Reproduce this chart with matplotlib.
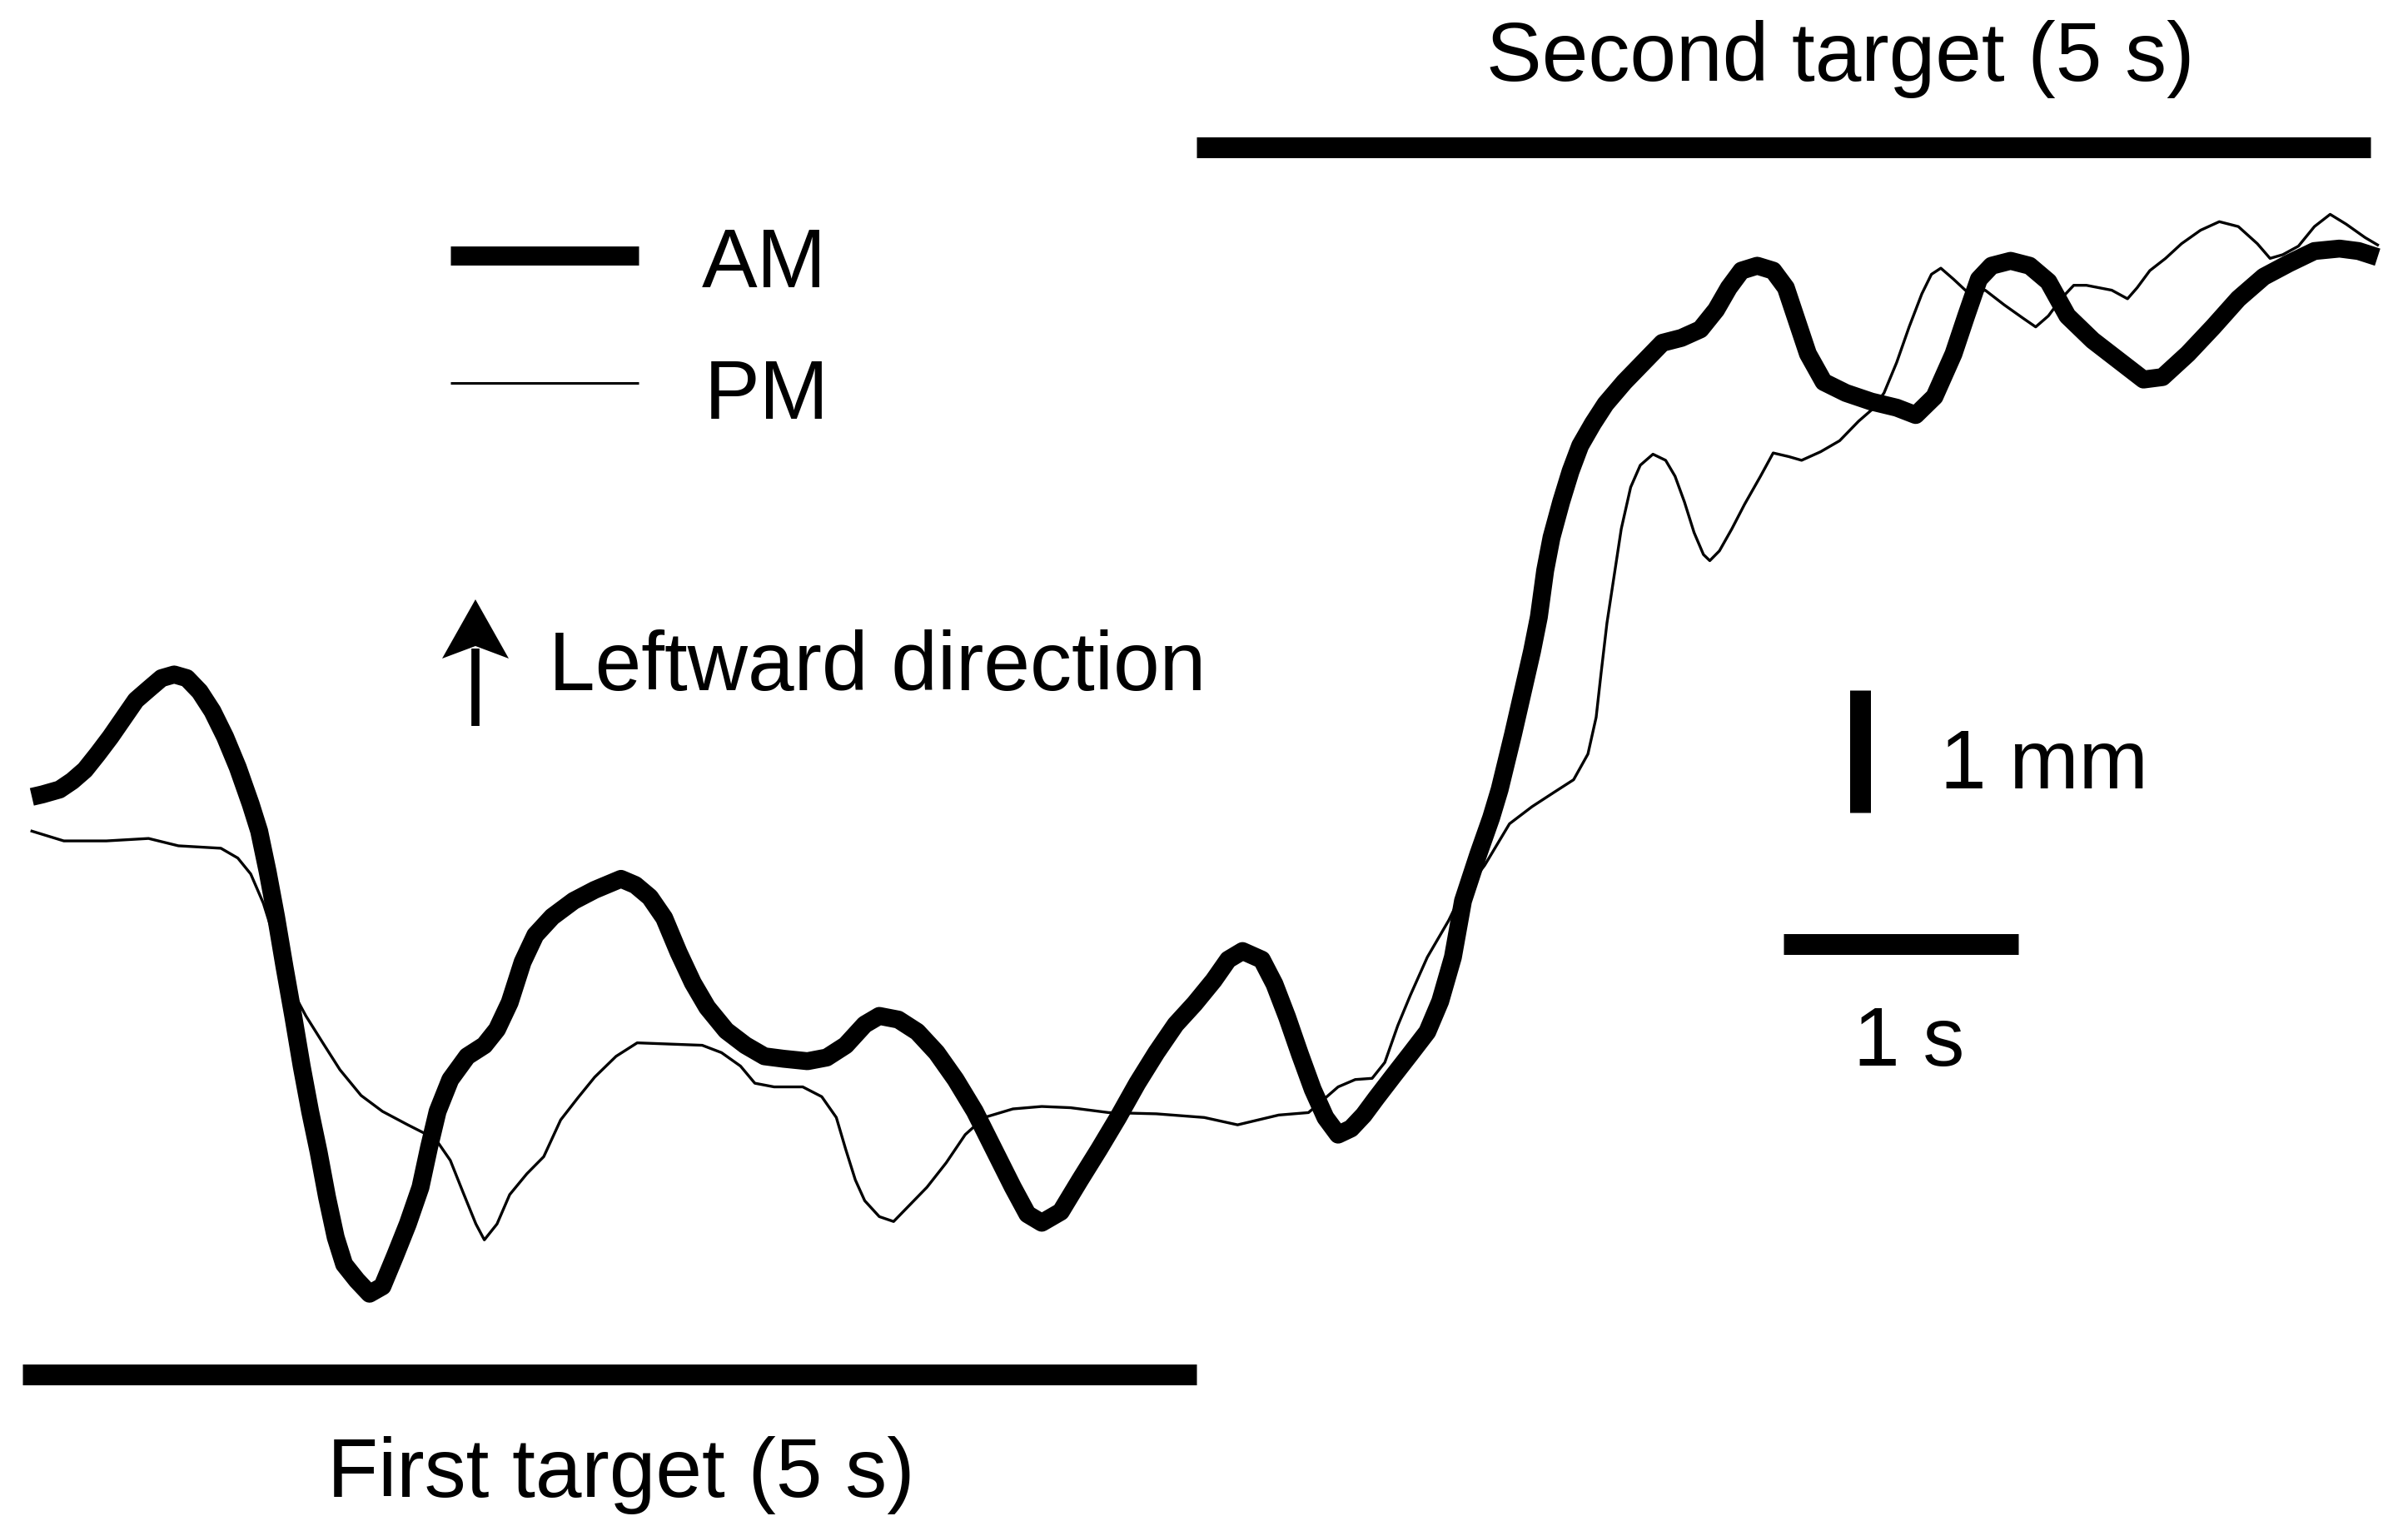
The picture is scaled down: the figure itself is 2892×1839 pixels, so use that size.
import numpy as np
import matplotlib
matplotlib.use("Agg")
import matplotlib.pyplot as plt
from matplotlib.patches import Polygon

# traces: time in s, position in mm (up = leftward)
am_t = [0.040, 0.085, 0.158, 0.212, 0.266, 0.320, 0.375, 0.429, 0.483, 0.537, 0.592, 0.646,
        0.700, 0.755, 0.809, 0.863, 0.917, 0.972, 1.008, 1.044, 1.080, 1.116, 1.153, 1.189,
        1.225, 1.261, 1.297, 1.334, 1.370, 1.424, 1.478, 1.533, 1.587, 1.641, 1.695, 1.732,
        1.768, 1.822, 1.894, 1.967, 2.021, 2.075, 2.130, 2.184, 2.256, 2.347, 2.437,
        2.549, 2.610, 2.672, 2.733, 2.794, 2.855, 2.916, 2.997, 3.079, 3.160, 3.241, 3.343,
        3.425, 3.506, 3.587, 3.649, 3.730, 3.811, 3.893, 3.974, 4.056, 4.137, 4.218, 4.280,
        4.341, 4.422, 4.504, 4.585, 4.666, 4.748, 4.829, 4.911, 4.992, 5.073, 5.135, 5.196,
        5.278, 5.332, 5.386, 5.440, 5.495, 5.549, 5.603, 5.658, 5.712, 5.766, 5.838, 5.911,
        5.983, 6.038, 6.092, 6.135, 6.200, 6.255, 6.291, 6.348, 6.429,
        6.458, 6.485, 6.512, 6.553, 6.593, 6.634, 6.688, 6.742, 6.822, 6.903, 6.984, 7.065,
        7.146, 7.213, 7.267, 7.321, 7.388, 7.456, 7.510, 7.550, 7.604, 7.671, 7.766, 7.874,
        7.982, 8.063, 8.143, 8.224, 8.278, 8.332, 8.386, 8.467, 8.548, 8.628, 8.709, 8.817,
        8.925, 9.033, 9.114, 9.222, 9.330, 9.437, 9.545, 9.653, 9.761, 9.868, 9.949, 10.030]
am_mm = [4.72, 4.74, 4.78, 4.85, 4.94, 5.07, 5.21, 5.36, 5.51, 5.60, 5.69, 5.72,
         5.69, 5.58, 5.42, 5.21, 4.96, 4.66, 4.44, 4.11, 3.74, 3.33, 2.93, 2.52,
         2.15, 1.82, 1.45, 1.12, 0.90, 0.77, 0.66, 0.72, 0.97, 1.23, 1.53, 1.86,
         2.15, 2.41, 2.60, 2.69, 2.82, 3.04, 3.37, 3.59, 3.74, 3.87, 3.96,
         4.05, 4.00, 3.90, 3.73, 3.45, 3.20, 3.00, 2.81, 2.69, 2.60, 2.58, 2.56,
         2.59, 2.69, 2.86, 2.93, 2.90, 2.80, 2.63, 2.41, 2.15, 1.84, 1.53, 1.31,
         1.24, 1.33, 1.59, 1.84, 2.10, 2.38, 2.63, 2.86, 3.03, 3.22, 3.39, 3.46,
         3.39, 3.19, 2.92, 2.62, 2.33, 2.10, 1.96, 2.01, 2.12, 2.26, 2.44, 2.62,
         2.80, 3.05, 3.41, 3.87, 4.25, 4.55, 4.78, 5.23, 5.91,
         6.19, 6.57, 6.84, 7.13, 7.38, 7.59, 7.77, 7.93, 8.11, 8.27, 8.43, 8.47,
         8.54, 8.70, 8.88, 9.02, 9.06, 9.02, 8.88, 8.65, 8.34, 8.11, 8.02, 7.95,
         7.90, 7.84, 7.99, 8.34, 8.65, 8.95, 9.06, 9.10, 9.06, 8.93, 8.65, 8.45,
         8.29, 8.13, 8.15, 8.34, 8.56, 8.79, 8.97, 9.08, 9.18, 9.20, 9.18, 9.13]

pm_t = [0.040, 0.176, 0.357, 0.537, 0.664, 0.845, 0.917, 0.972, 1.026, 1.080, 1.134, 1.207,
        1.279, 1.352, 1.442, 1.533, 1.641, 1.713, 1.768, 1.822, 1.876, 1.931, 1.967, 2.021,
        2.075, 2.148, 2.220, 2.292, 2.365, 2.437, 2.528, 2.618,
        2.753, 2.895, 2.977, 3.058, 3.119, 3.201, 3.323, 3.404, 3.466, 3.506, 3.547, 3.587,
        3.649, 3.710, 3.771, 3.852, 3.934, 4.015, 4.096, 4.218, 4.341, 4.463, 4.626, 4.829,
        5.033, 5.175, 5.350, 5.477, 5.549, 5.603, 5.676, 5.748, 5.802, 5.857, 5.911, 5.983,
        6.074, 6.120, 6.227, 6.333, 6.429, 6.525, 6.606, 6.667, 6.702, 6.723, 6.748,
        6.782, 6.809, 6.849, 6.890, 6.944, 6.998, 7.038, 7.078, 7.119, 7.159, 7.186, 7.227,
        7.280, 7.334, 7.402, 7.456, 7.523, 7.577, 7.658, 7.739, 7.820, 7.874, 7.928, 7.982,
        8.035, 8.089, 8.130, 8.170, 8.224, 8.291, 8.359, 8.440, 8.521, 8.574, 8.628, 8.682,
        8.736, 8.790, 8.844, 8.898, 8.965, 9.006, 9.060, 9.127, 9.195, 9.276, 9.356, 9.437,
        9.518, 9.572, 9.626, 9.693, 9.761, 9.828, 9.896, 9.977, 10.030]
pm_mm = [4.44, 4.36, 4.36, 4.38, 4.32, 4.30, 4.22, 4.09, 3.85, 3.52, 3.19, 2.93,
         2.71, 2.49, 2.28, 2.15, 2.04, 1.97, 1.90, 1.75, 1.49, 1.23, 1.10, 1.23,
         1.47, 1.64, 1.78, 2.08, 2.26, 2.43, 2.60, 2.71,
         2.70, 2.69, 2.63, 2.52, 2.38, 2.35, 2.35, 2.27, 2.10, 1.84, 1.59, 1.42,
         1.29, 1.25, 1.37, 1.53, 1.73, 1.96, 2.10, 2.17, 2.19, 2.18, 2.14, 2.13,
         2.10, 2.04, 2.12, 2.14, 2.26, 2.35, 2.41, 2.42, 2.55, 2.85, 3.10, 3.41,
         3.71, 3.89, 4.16, 4.50, 4.64, 4.76, 4.86, 5.07, 5.37, 5.73, 6.14,
         6.57, 6.91, 7.25, 7.43, 7.52, 7.47, 7.34, 7.13, 6.88, 6.70, 6.65, 6.73,
         6.91, 7.11, 7.34, 7.53, 7.50, 7.47, 7.54, 7.63, 7.79, 7.88, 8.02, 8.27,
         8.56, 8.83, 8.99, 9.04, 8.95, 8.83, 8.86, 8.74, 8.63, 8.56, 8.65, 8.79,
         8.90, 8.90, 8.88, 8.86, 8.79, 8.88, 9.02, 9.12, 9.24, 9.35, 9.42, 9.38,
         9.24, 9.12, 9.15, 9.22, 9.38, 9.48, 9.40, 9.29, 9.23]

targets = ["First target (5 s)", "Second target (5 s)"]
target_start = [0, 5]   # s
target_len = 5          # s

plt.rcParams['font.family'] = ['Liberation Sans', 'DejaVu Sans']
fs = 72

W, H = 2892, 1840
fig = plt.figure(figsize=(W / 100, H / 100), dpi=100)
ax = fig.add_axes([0, 0, 1, 1])
# 282 px per second, 147 px per mm
ax.set_xlim(-27 / 282, (W - 27) / 282)
ax.set_ylim((1652 - H) / 147, 1652 / 147)
ax.axis('off')

ax.plot(pm_t, pm_mm, color='black', lw=2.4, solid_joinstyle='round')
ax.plot(am_t, am_mm, color='black', lw=15.5, solid_joinstyle='round', solid_capstyle='butt')

# target bars
ax.plot([target_start[0], target_start[0] + target_len], [0, 0], color='black', lw=18, solid_capstyle='butt')
ax.plot([target_start[1], target_start[1] + target_len], [10.03, 10.03], color='black', lw=18, solid_capstyle='butt')
fig.text(746 / W, 1 - 1798 / H, targets[0], fontsize=fs, ha='center', va='baseline')
fig.text(2210 / W, 1 - 97 / H, targets[1], fontsize=fs, ha='center', va='baseline')

# legend
ax.plot([1.823, 2.624], [9.14, 9.14], color='black', lw=16.5, solid_capstyle='butt')
ax.plot([1.823, 2.624], [8.10, 8.10], color='black', lw=2.2, solid_capstyle='butt')
fig.text(843 / W, 1 - 345 / H, "AM", fontsize=fs, ha='left', va='baseline')
fig.text(846 / W, 1 - 503 / H, "PM", fontsize=fs, ha='left', va='baseline')

# direction arrow (shaft + barbed head)
fig.add_artist(plt.Line2D([571 / W, 571 / W], [1 - 873 / H, 1 - 780 / H],
                          color='black', lw=7, solid_capstyle='butt'))
head = [(571, 721), (611, 792), (571, 777), (531, 792)]
fig.add_artist(Polygon([(x / W, 1 - y / H) for x, y in head], closed=True,
                       transform=fig.transFigure, color='black', lw=0))
fig.text(659 / W, 1 - 829 / H, "Leftward direction", fontsize=fs, ha='left', va='baseline')

# scale bars
ax.plot([7.826, 7.826], [4.59, 5.59], color='black', lw=18, solid_capstyle='butt')
ax.plot([7.5, 8.5], [3.52, 3.52], color='black', lw=18, solid_capstyle='butt')
fig.text(2330 / W, 1 - 947 / H, "1 mm", fontsize=fs, ha='left', va='baseline')
fig.text(2293 / W, 1 - 1280 / H, "1 s", fontsize=fs, ha='center', va='baseline')

fig.savefig("out.png", dpi=100)
